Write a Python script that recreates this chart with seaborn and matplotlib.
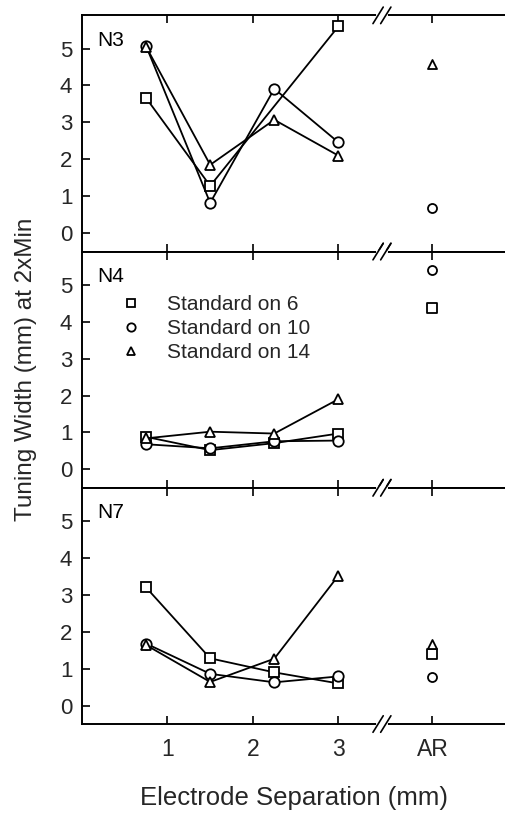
import numpy as np
import pandas as pd
import matplotlib
matplotlib.use("Agg")
import matplotlib.pyplot as plt
import seaborn as sns
from matplotlib.lines import Line2D

# ---------------- data ----------------
separation = [0.75, 1.5, 2.25, 3.0]
ar_position = 4.1
xtick_positions = [1, 2, 3, 4.1]
xtick_labels = ["1", "2", "3", "AR"]
ytick_values = [0, 1, 2, 3, 4, 5]
panel_names = ["N3", "N4", "N7"]
series_names = ["Standard on 6", "Standard on 10", "Standard on 14"]

nan = np.nan
# N3
n3_std6 = [3.66, 1.28, nan, 5.60]
n3_std10 = [5.07, 0.82, 3.91, 2.46]
n3_std14 = [5.05, 1.85, 3.07, 2.10]
n3_ar = [nan, 0.69, 4.57]
# N4
n4_std6 = [0.88, 0.52, 0.71, 0.97]
n4_std10 = [0.68, 0.57, 0.76, 0.78]
n4_std14 = [0.84, 1.02, 0.97, 1.90]
n4_ar = [4.36, 5.40, nan]
# N7
n7_std6 = [3.20, 1.28, 0.90, 0.60]
n7_std10 = [1.68, 0.86, 0.63, 0.79]
n7_std14 = [1.64, 0.64, 1.27, 3.52]
n7_ar = [1.40, 0.77, 1.67]

panel_series = {
    "N3": [n3_std6, n3_std10, n3_std14],
    "N4": [n4_std6, n4_std10, n4_std14],
    "N7": [n7_std6, n7_std10, n7_std14],
}
panel_ar = {"N3": n3_ar, "N4": n4_ar, "N7": n7_ar}

# ---------------- style ----------------
sns.set_theme(style="white")
plt.rcParams["font.family"] = ["Liberation Sans", "DejaVu Sans"]

markers = ["s", "o", "^"]
line_ms = 7.5
ar_ms = 6.5
mew = 1.3

fig = plt.figure(figsize=(5.05, 8.16), dpi=100)
left = 82 / 505
width = 1 - left
height = 0.2895
bottoms = [0.6917, 0.4022, 0.1127]

break_x = 3.51

for i, name in enumerate(panel_names):
    ax = fig.add_axes([left, bottoms[i], width, height])
    rows = []
    for s_name, vals in zip(series_names, panel_series[name]):
        for x, v in zip(separation, vals):
            rows.append({"sep": x, "width": v, "series": s_name})
    df = pd.DataFrame(rows).dropna()
    for k, s_name in enumerate(series_names):
        sub = df[df["series"] == s_name]
        sns.lineplot(data=sub, x="sep", y="width", ax=ax, color="black",
                     linewidth=1.3, marker=markers[k], markersize=line_ms,
                     markerfacecolor="white", markeredgecolor="black",
                     markeredgewidth=mew, errorbar=None, sort=False,
                     zorder=3 + k)
        ar_val = panel_ar[name][k]
        if not np.isnan(ar_val):
            sns.scatterplot(x=[ar_position], y=[ar_val], ax=ax,
                            marker=markers[k], s=ar_ms ** 2,
                            facecolor="white", edgecolor="black",
                            linewidth=mew, zorder=6, legend=False)

    ax.set_xlim(0, 4.95)
    ax.set_ylim(-0.5, 5.9)
    ax.set_xticks(xtick_positions)
    ax.set_yticks(ytick_values)
    ax.set_xlabel("")
    ax.set_ylabel("")
    ax.tick_params(axis="x", direction="in", top=True, bottom=True,
                   length=6, width=1.2, color="black", labelsize=16.5, pad=10)
    ax.tick_params(axis="y", direction="in", left=True, right=False,
                   length=6, width=1.2, color="black", labelsize=16, pad=7)
    if i == 2:
        ax.set_xticklabels(xtick_labels)
    else:
        ax.set_xticklabels([])
    for side in ["left", "top", "bottom"]:
        ax.spines[side].set_visible(True)
        ax.spines[side].set_color("black")
        ax.spines[side].set_linewidth(1.4)
    ax.spines["right"].set_visible(False)

    ax.text(0.035, 0.935, name, transform=ax.transAxes, fontsize=15,
            va="top", ha="left", color="black")

    # axis break marks
    trans = ax.get_xaxis_transform()
    for yb in (0, 1):
        ax.plot([break_x - 0.045, break_x + 0.045], [yb, yb], color="white",
                linewidth=3, transform=trans, clip_on=False, zorder=10)
        for xc in (break_x - 0.045, break_x + 0.045):
            ax.plot([xc - 0.06, xc + 0.06], [yb - 0.035, yb + 0.035],
                    color="black", linewidth=1.2, transform=trans,
                    clip_on=False, zorder=11)

    if name == "N4":
        handles = [Line2D([], [], linestyle="none", marker=m, markersize=6,
                          markerfacecolor="white", markeredgecolor="black",
                          markeredgewidth=mew) for m in markers]
        ax.legend(handles, series_names, loc="upper left",
                  bbox_to_anchor=(0.0905, 0.816), frameon=False, fontsize=15,
                  handlelength=1.0, handletextpad=1.25, labelspacing=0.24,
                  borderpad=0, borderaxespad=0)

    if i == 2:
        ax.set_xlabel("Electrode Separation (mm)", fontsize=18.5, labelpad=18)

fig.text(0.052, 1 - (15 + 724) / 2 / 816, "Tuning Width (mm) at 2xMin",
         rotation=90, fontsize=17.5, va="center", ha="center")

fig.savefig("out.png", dpi=100, facecolor="white")
